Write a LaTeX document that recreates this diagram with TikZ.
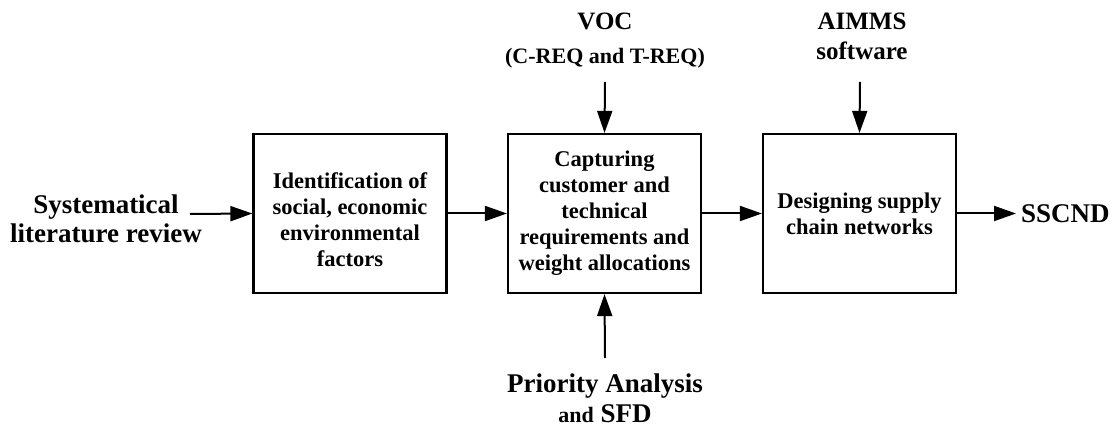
\documentclass[tikz,border=0pt]{standalone}
\usepackage{fontspec}
\setmainfont{Liberation Serif}
\usetikzlibrary{arrows.meta}
\newcommand{\stackc}[1]{\begin{tabular}[t]{@{}c@{}}#1\end{tabular}}
\begin{document}
\begin{tikzpicture}[x=1pt,y=-1pt,
  block/.style={draw,line width=2.2pt,minimum width=193pt,minimum height=159pt,
    align=center,font=\bfseries\fontsize{22.5}{26}\selectfont,inner sep=0pt},
  lbl/.style={anchor=base,inner sep=0pt,font=\bfseries\fontsize{27}{29}\selectfont},
  flow/.style={line width=2pt,-{Triangle[length=22pt,width=15pt]}}]
\useasboundingbox (0,0) rectangle (1117,427);
% main process chain
\node[block] (b1) at (350,213.5) {\rule{0pt}{28pt}Identification of\\social, economic\\environmental\\factors};
\node[block] (b2) at (604.5,213.5) {Capturing\\customer and\\technical\\requirements and\\weight allocations};
\node[block] (b3) at (859.5,213.5) {Designing supply\\chain networks};
% inputs and output
\node[lbl] (slr) at (106,214) {\stackc{Systematical\\literature review}};
\node[lbl,anchor=base west] (out) at (1021,223) {SSCND};
\node[lbl,font=\bfseries\fontsize{25}{34}\selectfont] (voc) at (605,30)
  {\stackc{VOC\\{\fontsize{22}{34}\selectfont (C-REQ and T-REQ)}}};
\node[lbl,font=\bfseries\fontsize{25}{30}\selectfont] (aim) at (862,30) {\stackc{AIMMS\\software}};
\node[lbl,font=\bfseries\fontsize{27}{30}\selectfont] (pri) at (605,393)
  {\stackc{Priority Analysis\\{\fontsize{22}{30}\selectfont and} SFD}};
\coordinate (slrend) at (190,214);
\coordinate (outend) at (1016,213.5);
\coordinate (vocend) at (605,82);
\coordinate (aimend) at (860,82);
\coordinate (priend) at (605,358);
% connectors
\draw[flow] (slrend) -- (b1.west);
\draw[flow] (b1.east) -- (b2.west);
\draw[flow] (b2.east) -- (b3.west);
\draw[flow] (b3.east) -- (outend);
\draw[flow] (vocend) -- (b2.north);
\draw[flow] (aimend) -- (b3.north);
\draw[flow] (priend) -- (b2.south);
\end{tikzpicture}
\end{document}
